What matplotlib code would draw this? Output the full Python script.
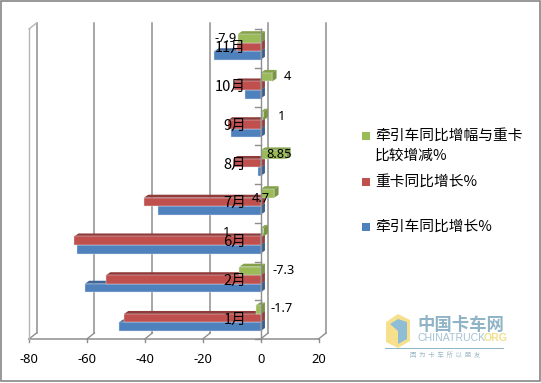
import matplotlib
matplotlib.use('Agg')
import matplotlib.pyplot as plt
from matplotlib.patches import Polygon, Rectangle

plt.rcParams['font.family'] = ['Noto Sans CJK SC', 'DejaVu Sans']

months = ['1月', '2月', '6月', '7月', '8月', '9月', '10月', '11月']
tractor = [-49, -60.7, -63.4, -35.6, -1, -10.3, -5.3, -16]
heavy = [-47.2, -53.4, -64.4, -40.3, -9.6, -11.3, -9.3, -8.1]
diff = [-1.7, -7.3, 1, 4.7, 8.85, 1, 4, -7.9]
diff_labels = ['-1.7', '-7.3', '1', '4.7', '8.85', '1', '4', '-7.9']
x_ticks = [-80, -60, -40, -20, 0, 20]

W, H = 541, 383
GRID = '#8e8e8e'
DX, DY = 2.6, 6 / 38.75  # depth of the back wall, in data units
BAR_DX, BAR_DY = 1.5, 3 / 38.75
BAR_H = 0.22


def px(x, y):
    return x / W, 1 - y / H


def drawBar(ax, k, value, base, front, top, side):
    lo, hi = min(value, 0), max(value, 0)
    ytop = k + base + BAR_H
    ax.add_patch(Polygon([(lo, ytop), (hi, ytop), (hi + BAR_DX, ytop + BAR_DY),
                          (lo + BAR_DX, ytop + BAR_DY)], fc=top, ec='none', zorder=3))
    ax.add_patch(Polygon([(hi, k + base), (hi + BAR_DX, k + base + BAR_DY),
                          (hi + BAR_DX, ytop + BAR_DY), (hi, ytop)], fc=side, ec='none', zorder=3))
    ax.barh(k + base, hi - lo, height=BAR_H, left=lo, align='edge', color=front,
            edgecolor='#dfe6f0', linewidth=0.3, zorder=3)


def drawFrame(ax):
    for t in x_ticks:
        ax.plot([t + DX, t + DX], [DY, 8 + DY], color=GRID, lw=1.1, zorder=1, clip_on=False)
        ax.plot([t, t + DX], [0, DY], color=GRID, lw=1.0, zorder=1, clip_on=False)
        ax.plot([t, t], [0, -0.08], color=GRID, lw=1.0, zorder=1, clip_on=False)
    ax.plot([-80, 20], [0, 0], color=GRID, lw=1.1, zorder=1, clip_on=False)
    ax.plot([-80, -80], [0, 8], color='#b5b5b5', lw=1.0, zorder=1, clip_on=False)
    ax.plot([-80, -80 + DX], [8, 8 + DY], color='#b5b5b5', lw=1.0, zorder=1, clip_on=False)
    ax.plot([0, 0], [0, 8], color=GRID, lw=1.0, zorder=4, clip_on=False)
    for k in range(9):
        ax.plot([-2, 0], [k, k], color=GRID, lw=1.0, zorder=4, clip_on=False)


def drawWatermark(fig):
    cube = [(386, 322), (398, 314), (410, 320), (410, 341), (398, 348), (386, 342)]
    fig.add_artist(Polygon([px(*p) for p in cube], fc='#f7e08c', ec='none'))
    inner = [(390, 324), (398, 319), (407, 322), (407, 339), (398, 344), (398, 331)]
    fig.add_artist(Polygon([px(*p) for p in inner], fc='#8fbdd6', ec='none'))
    fig.text(*px(461, 325), '中国卡车网', fontsize=12.5, color='#8fb4c6', fontweight='bold',
             ha='center', va='center')
    fig.text(*px(418, 338), 'CHINATRUCK', fontsize=7.6, color='#a4c2d2', va='center',
             family=['Liberation Sans'])
    fig.text(*px(484, 338), 'ORG', fontsize=7.6, color='#f2e08e', va='center',
             family=['Liberation Sans'], fontweight='bold')
    fig.add_artist(Rectangle(px(385, 349), 119 / W, 1 / H, fc='#8fb4c6', ec='none'))
    fig.text(*px(445, 355), '因  为  卡  车  所  以  朋  友', fontsize=4.6, color='#9db8c6',
             ha='center', va='center')


def main():
    fig = plt.figure(figsize=(W / 100, H / 100), dpi=100)
    ax = fig.add_axes([29 / W, 1 - 339 / H, (318.5 - 29) / W, 310 / H])
    ax.set_xlim(-80, 20)
    ax.set_ylim(0, 8)
    ax.axis('off')

    fig.add_artist(Rectangle((1 / W, 2 / H), 539 / W, 380 / H, fc='none', ec='#868686', lw=1.2))
    drawFrame(ax)

    for k in range(len(months)):
        drawBar(ax, k, tractor[k], 0.206, '#4f81bd', '#3d6595', '#3a5f8c')
        drawBar(ax, k, heavy[k], 0.426, '#c0504d', '#8f3b39', '#96403d')
        drawBar(ax, k, diff[k], 0.646, '#9bbb59', '#84a14a', '#7a9644')
        ax.text(-5, k + 0.5, months[k], fontsize=10.6, ha='right', va='center', zorder=5)

    for t in x_ticks:
        ax.text(t, -0.52, str(t), fontsize=9.3, family=['Noto Sans'], ha='center', va='center',
                clip_on=False)

    label_pos = [(282, 309), (284, 271), (227, 232), (261, 198),
                 (279, 154), (282, 116), (287, 77), (226, 38)]
    for text, pos in zip(diff_labels, label_pos):
        fig.text(*px(*pos), text, fontsize=9.3, family=['Noto Sans'], ha='center', va='center',
                 zorder=6)

    legend = [(136, '#9bbb59', '牵引车同比增幅与重卡'), (182, '#c0504d', '重卡同比增长%'),
              (227, '#4f81bd', '牵引车同比增长%')]
    for y, color, text in legend:
        fig.add_artist(Rectangle(px(362, y + 4), 8 / W, 8 / H, fc=color, ec='none'))
        fig.text(*px(375, y), text, fontsize=10.6, va='center')
    fig.text(*px(375, 156), '比较增减%', fontsize=10.6, va='center')

    drawWatermark(fig)
    fig.savefig('out.png', dpi=100)


if __name__ == '__main__':
    main()
